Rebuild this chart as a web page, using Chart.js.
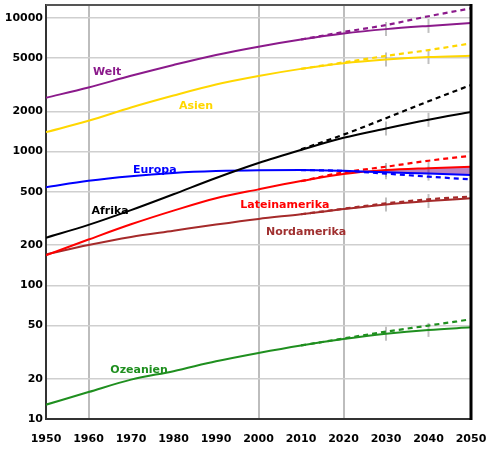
<!DOCTYPE html>
<html>
<head>
<meta charset="utf-8">
<script src="https://cdn.jsdelivr.net/npm/chart.js@4"></script>
<style>
  html, body { margin: 0; padding: 0; background: #fff; }
  #wrap { width: 487px; height: 449px; }
</style>
</head>
<body>
<div id="wrap"><canvas id="popChart"></canvas></div>
<script>
// Bevoelkerung nach Kontinent (Mio.), 1950-2050, log. Skala
const years = [1950, 1960, 1970, 1980, 1990, 2000, 2010, 2020, 2030, 2040, 2050];
const projYears = [2010, 2020, 2030, 2040, 2050];

// mittlere Variante (durchgezogen)
const welt = [2530, 3020, 3690, 4450, 5290, 6100, 6900, 7650, 8250, 8720, 9150];
const asien = [1400, 1700, 2140, 2630, 3180, 3680, 4160, 4580, 4880, 5100, 5210];
const afrika = [227, 283, 365, 480, 635, 822, 1030, 1270, 1490, 1730, 1980];
const europa = [541, 605, 655, 692, 715, 726, 728, 718, 700, 685, 668];
const lateinamerika = [168, 220, 286, 362, 448, 522, 602, 680, 728, 752, 771];
const nordamerika = [170, 200, 230, 256, 285, 314, 340, 372, 403, 427, 448];
const ozeanien = [12.8, 15.9, 19.7, 22.8, 27, 31.2, 35.5, 39.6, 43.4, 46.4, 48.5];

// hohe Variante (gestrichelt), ab 2010
const weltHoch = [6900, 7850, 8850, 10300, 11800];
const asienHoch = [4160, 4650, 5200, 5750, 6450];
const afrikaHoch = [1040, 1340, 1780, 2380, 3150];
const europaNiedrig = [728, 718, 685, 650, 620];
const lateinamerikaHoch = [602, 700, 771, 855, 930];
const nordamerikaHoch = [340, 374, 410, 440, 462];
const ozeanienHoch = [35.5, 40, 45, 50, 55.7];

const yTicks = [10, 20, 50, 100, 200, 500, 1000, 2000, 5000, 10000];
const majorYears = [1960, 2000, 2020];
const markYears = [2030, 2040];

const series = [
  { name: 'Welt', color: '#8b1a8b', vals: welt, proj: weltHoch, at: [1964.4, 3940] },
  { name: 'Asien', color: '#ffd700', vals: asien, proj: asienHoch, at: [1985.3, 2190] },
  { name: 'Afrika', color: '#000000', vals: afrika, proj: afrikaHoch, at: [1965.1, 360] },
  { name: 'Europa', color: '#0000ff', vals: europa, proj: europaNiedrig, at: [1975.6, 728] },
  { name: 'Lateinamerika', color: '#ff0000', vals: lateinamerika, proj: lateinamerikaHoch, at: [2006.2, 398] },
  { name: 'Nordamerika', color: '#a52a2a', vals: nordamerika, proj: nordamerikaHoch, at: [2011.2, 250] },
  { name: 'Ozeanien', color: '#1f8f1f', vals: ozeanien, proj: ozeanienHoch, at: [1971.9, 23.2] }
];

const pts = (xs, ys) => xs.map((x, i) => ({ x: x, y: ys[i] }));

const datasets = [];
series.forEach(s => {
  datasets.push({
    label: s.name, data: pts(projYears, s.proj), borderColor: s.color,
    borderWidth: 2.2, borderDash: [5, 4], pointRadius: 0, fill: false,
    cubicInterpolationMode: 'monotone'
  });
  datasets.push({
    label: s.name, data: pts(years, s.vals), borderColor: s.color,
    borderWidth: 2, pointRadius: 0, fill: false,
    cubicInterpolationMode: 'monotone'
  });
});

// Flaeche zwischen Europa und Lateinamerika ab 2020
const fillYears = years.slice(7);
datasets.push({
  label: 'euFill', data: pts(fillYears, europa.slice(7)), borderWidth: 0,
  pointRadius: 0, borderColor: 'transparent',
  backgroundColor: 'rgba(140, 50, 160, 0.6)', fill: '+1',
  cubicInterpolationMode: 'monotone'
});
datasets.push({
  label: 'laFill', data: pts(fillYears, lateinamerika.slice(7)), borderWidth: 0,
  pointRadius: 0, borderColor: 'transparent', fill: false,
  cubicInterpolationMode: 'monotone'
});

// kleine graue Striche bei 2030 und 2040
const markPlugin = {
  id: 'marks',
  beforeDatasetsDraw(chart) {
    const { ctx, scales: { x, y } } = chart;
    ctx.save();
    ctx.strokeStyle = 'rgba(150,150,150,0.6)';
    ctx.lineWidth = 2;
    series.forEach(s => {
      markYears.forEach(yr => {
        const v = s.vals[years.indexOf(yr)];
        const px = x.getPixelForValue(yr), py = y.getPixelForValue(v);
        ctx.beginPath();
        ctx.moveTo(px, py - 7);
        ctx.lineTo(px, py + 7);
        ctx.stroke();
      });
    });
    ctx.restore();
  }
};

// Rahmen oben und rechts, Beschriftungen der Kurven
const framePlugin = {
  id: 'frame',
  afterDraw(chart) {
    const { ctx, chartArea: a, scales: { x, y } } = chart;
    ctx.save();
    ctx.strokeStyle = '#555';
    ctx.lineWidth = 2;
    ctx.beginPath();
    ctx.moveTo(a.left, a.top);
    ctx.lineTo(a.right, a.top);
    ctx.stroke();
    ctx.strokeStyle = '#000';
    ctx.lineWidth = 3;
    ctx.beginPath();
    ctx.moveTo(a.right, a.top - 1);
    ctx.lineTo(a.right, a.bottom + 1);
    ctx.stroke();

    ctx.font = 'bold 11px "DejaVu Sans"';
    ctx.textAlign = 'center';
    ctx.textBaseline = 'middle';
    series.forEach(s => {
      ctx.fillStyle = s.name === 'Nordamerika' ? '#a03030' : s.color;
      ctx.fillText(s.name, x.getPixelForValue(s.at[0]), y.getPixelForValue(s.at[1]));
    });
    ctx.restore();
  }
};

new Chart(document.getElementById('popChart'), {
  type: 'line',
  data: { datasets: datasets },
  options: {
    responsive: true,
    maintainAspectRatio: false,
    animation: false,
    layout: { padding: { top: 5, right: 16, left: 0, bottom: 0 } },
    plugins: { legend: { display: false }, tooltip: { enabled: false } },
    scales: {
      x: {
        type: 'linear', min: 1950, max: 2050,
        ticks: {
          stepSize: 10, color: '#000', padding: 14,
          font: { family: 'DejaVu Sans', size: 11, weight: 'bold' },
          callback: v => String(v)
        },
        grid: {
          drawTicks: false,
          color: c => (c.tick && majorYears.includes(c.tick.value)) ? '#bdbdbd' : 'transparent',
          lineWidth: 2
        },
        border: { color: '#333', width: 2 },
        afterFit: s => { s.height = 30; s.paddingLeft = 0; s.paddingRight = 0; }
      },
      y: {
        type: 'logarithmic', min: 10, max: 12500,
        afterBuildTicks: s => { s.ticks = yTicks.map(v => ({ value: v })); },
        ticks: {
          color: '#000', padding: 3,
          font: { family: 'DejaVu Sans', size: 11, weight: 'bold' },
          callback: v => String(v)
        },
        grid: { drawTicks: false, color: '#cfcfcf', lineWidth: 1.5 },
        border: { color: '#333', width: 2 },
        afterFit: s => { s.width = 46; s.paddingTop = 0; s.paddingBottom = 0; }
      }
    }
  },
  plugins: [markPlugin, framePlugin]
});
</script>
</body>
</html>
